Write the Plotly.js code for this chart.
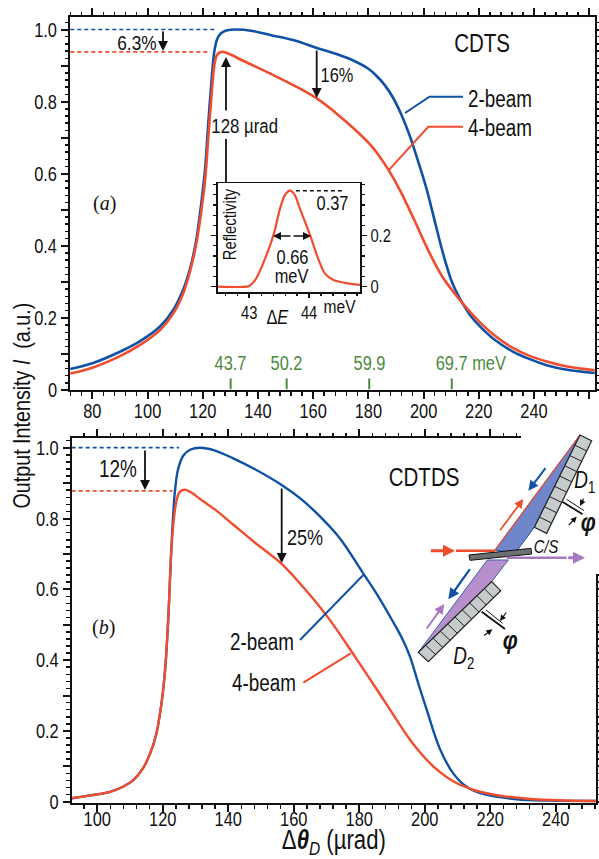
<!DOCTYPE html>
<html><head><meta charset="utf-8">
<script src="https://cdn.plot.ly/plotly-3.0.1.min.js"></script>
<style>html,body{margin:0;padding:0;background:#fff;overflow:hidden}</style>
</head><body><div id="chart" style="width:599px;height:859px"></div>
<script>
// ---- Panel (a) CDTS: 2-beam and 4-beam output intensity
const aBlueX = [72,80,90,97,104.5,109.3,113,115.5,117.5,119,120.8,122,123.3,124.2,125.2,126.5,128.5,132,138,144.4,153,161.3,168,174.5,180,183,186,189,192,195,198,201,204,207,210,212,214.4,217,220.5,226,232.5,238,244.6,252,262];
const aBlueY = [.058,.074,.106,.134,.176,.222,.28,.34,.41,.49,.61,.74,.87,.94,.973,.989,.997,1,.996,.985,.97,.949,.933,.914,.891,.871,.845,.81,.763,.705,.635,.56,.47,.38,.305,.27,.237,.206,.176,.138,.106,.087,.069,.056,.047];
const aRedX = [72,80,90,97.3,104.5,109.3,113,115.4,117.5,119,120.8,122,123.3,124.2,125.2,126.9,129,135,144.4,153,161.3,168,174.6,180,183,187,191.5,196.3,201.2,207,214.4,220.5,226,232.5,238,244.6,252,262];
const aRedY = [.046,.062,.094,.125,.166,.212,.27,.33,.40,.47,.58,.70,.83,.90,.93,.938,.934,.912,.878,.845,.809,.77,.726,.686,.659,.614,.553,.477,.395,.312,.238,.187,.15,.116,.096,.079,.065,.055];
// ---- Panel (b) CDTDS
const bBlueX = [92.2,98,103.9,108,111,114,116.1,118,119.5,120.7,121.7,122.5,123,123.7,124.7,126.3,128.5,131.4,136,141.5,148,156.3,162,167,174,181.2,185,190.4,193,195.5,198,200.6,204.6,208.7,212.8,217.8,228,238.3,252.3];
const bBlueY = [.0096,.018,.028,.043,.061,.095,.135,.19,.27,.37,.52,.69,.78,.875,.94,.978,.995,1,.992,.97,.94,.895,.857,.815,.745,.645,.592,.507,.463,.41,.335,.26,.15,.08,.042,.022,.007,.003,.002];
const bRedX = [92.2,98,103.9,108,111,114,116.1,118,119.5,120.7,121.7,122.5,123.4,124.2,125,126,127,129,131.4,136,141.5,148,156.3,163,170.5,178.7,187.3,195.5,199,202.6,208.7,215.8,223,233.2,252.3];
const bRedY = [.0096,.018,.028,.043,.061,.095,.135,.19,.27,.37,.52,.69,.80,.85,.872,.88,.881,.872,.855,.825,.783,.733,.672,.605,.52,.41,.29,.175,.135,.1,.058,.031,.017,.007,.002];
// ---- Inset: reflectivity
const insetX = [42.48,42.95,43,43.1,43.24,43.41,43.52,43.6,43.68,43.76,43.84,44.02,44.16,44.27,44.4,44.6,44.85];
const insetY = [0,0,.003,.026,.095,.205,.31,.36,.376,.36,.31,.2,.105,.05,.027,.015,.007];
// ---- Energy markers on panel (a)
const energyX = [130.1,150.4,180.3,210.2];
const energyLabels = ['43.7','50.2','59.9','69.7 meV'];

const W=599,H=859;
const BLUE='#0f52a5',RED='#f04c2e',GREEN='#4c8a3e',INK='#111',FONT='"Liberation Sans",Arial,sans-serif';
const px=x=>x/W, py=y=>1-y/H;

const axisBase={showgrid:false,zeroline:false,showline:true,linecolor:INK,linewidth:2,ticks:'outside',tickcolor:INK,tickwidth:2,ticklen:7,mirror:'ticks',tickfont:{family:FONT,size:20,color:INK}};
function xAx(dom,rng,anchor,off){return Object.assign({},axisBase,{domain:dom,range:rng,anchor,tickmode:'linear',tick0:0,dtick:20,ticklabelstandoff:off,minor:{dtick:4,tick0:0,ticks:'outside',ticklen:3.5,tickwidth:1.5,tickcolor:INK}});}
function yAx(dom,rng,anchor){return Object.assign({},axisBase,{domain:dom,range:rng,anchor,tickmode:'linear',tick0:0,dtick:.1,ticklabelstep:2,tickformat:'.1f',labelalias:{'0.0':'0'},minor:{dtick:.02,tick0:0,ticks:'outside',ticklen:3.5,tickwidth:1.5,tickcolor:INK}});}

const line=(x,y,c,xa,ya,w,dash)=>({x,y,xaxis:xa,yaxis:ya,type:'scatter',mode:'lines',hoverinfo:'skip',showlegend:false,line:{color:c,width:w||2.6,dash:dash||'solid',shape:dash?'linear':'spline',smoothing:1}});

const traces=[
 line([72,125],[1,1],BLUE,'x','y',1.7,'4px,3px'),
 line([72,122.3],[.938,.938],RED,'x','y',1.7,'4px,3px'),
 line(aBlueX,aBlueY,BLUE,'x','y'),
 line(aRedX,aRedY,RED,'x','y'),
 line([92.2,125],[1,1],BLUE,'x2','y2',1.7,'4px,3px'),
 line([92.2,123],[.878,.878],RED,'x2','y2',1.7,'4px,3px'),
 line(bBlueX,bBlueY,BLUE,'x2','y2',2.4),
 line(bRedX,bRedY,RED,'x2','y2',2.4),
 line(insetX,insetY,RED,'x3','y3',2.2),
 line([43.78,44.58],[.376,.376],INK,'x3','y3',1.4,'4px,3px')
];
energyX.forEach(v=>traces.push(Object.assign(line([v,v],[0.002,.032],GREEN,'x','y',2),{line:{color:GREEN,width:2}})));

// shapes drawn in page pixels (schematic and leader lines)
const shapes=[];
function poly(pts,fill,col,w,closed){
  shapes.push({type:'path',xref:'paper',yref:'paper',layer:'above',
   path:pts.map((p,i)=>(i?'L':'M')+px(p[0]).toFixed(5)+' '+py(p[1]).toFixed(5)).join(' ')+(closed?' Z':''),
   fillcolor:fill||'rgba(0,0,0,0)',line:{color:col||'rgba(0,0,0,0)',width:w||0}});
}
const z=(a,b)=>[400+a/3,420+b/3];
// white patch hiding the axes of panel (b) behind the schematic
poly([[521,425],[599,425],[599,574],[521,574]],'#fff',null,0,true);
// leaders
poly([[405,113],[429.5,96.7],[463,96.7]],null,BLUE,2);
poly([[388.3,170.7],[428.3,126.7],[463,126.7]],null,RED,2);
poly([[363.3,575],[300,640]],null,BLUE,2);
poly([[303.3,682.7],[350.7,653.3]],null,RED,2);
// schematic wedges
poly([z(540,45),z(403,322),z(345,400),z(285,390)],'#6f86cb','#1f4fa5',1,true);
poly([z(262,420),z(325,420),z(275,485),z(55,697)],'#b68fcb','#3d5fb0',1,true);
poly([z(285,390),z(540,45)],null,RED,1.2);
// detectors
function detector(a,b,c,d,n){
  poly([a,b,c,d],'#c6cccc','#222',1.2,true);
  for(let i=1;i<n;i++){const t=i/n;
    poly([[a[0]+(d[0]-a[0])*t,a[1]+(d[1]-a[1])*t],[b[0]+(c[0]-b[0])*t,b[1]+(c[1]-b[1])*t]],null,'#222',1);}
}
detector(z(540,45),z(575,62),z(440,340),z(403,322),9);
detector(z(55,697),z(85,725),z(302,512),z(275,485),10);
// crystal / C-S element
poly([z(207,405),z(393,385),z(395,402),z(210,421)],'#6b7074','#111',1,true);
poly([z(168,392),z(285,392)],null,RED,2.5);
poly([z(320,413),z(500,413)],null,'#a678c0',2.5);
// angle marks
poly([z(487,245),z(548,283)],null,INK,1.8);
poly([z(500,238),z(552,272)],null,INK,1,false);
poly([z(245,575),z(315,627)],null,INK,1.8);
poly([z(258,570),z(308,610)],null,INK,1,false);

// labels
const ann=[];
function T(text,x,y,size,o){ann.push(Object.assign({text,xref:'paper',yref:'paper',x:px(x),y:py(y),xanchor:'center',yanchor:'middle',showarrow:false,borderpad:0,font:{family:FONT,size,color:INK}},o||{}));}
function A(x0,y0,x1,y1,col,w,size){ann.push({text:'',xref:'paper',yref:'paper',x:px(x1),y:py(y1),ax:x0-x1,ay:y0-y1,axref:'pixel',ayref:'pixel',showarrow:true,arrowhead:2,arrowsize:size||1.1,arrowwidth:w||1.8,arrowcolor:col||INK});}
const ZA=(a,b,c,d,col,w,s)=>{const p=z(a,b),q=z(c,d);A(p[0],p[1],q[0],q[1],col,w,s);};

T('Output Intensity <i>I</i>  (a.u.)',21,406,24,{textangle:-90});
T('6.3%',137,42,21);
A(163,30,163,51);
T('128 µrad',245,125,20.5);
A(226,112,226,57);
poly([[226,139],[226,183]],null,INK,1.8);
T('16%',337,75,20);
A(316.7,49,316.7,98);
T('CDTS',482,43,25);
T('2-beam',500,99,23);
T('4-beam',500,128,23);
T('(<i>a</i>)',104,203,20,{font:{family:'"Liberation Serif",serif',size:20,color:INK}});
energyX.forEach((v,i)=>{
  const isLast=i===energyX.length-1;
  ann.push({text:energyLabels[i],xref:'x',yref:'y',x:v,y:.075,xanchor:isLast?'left':'center',xshift:isLast?-26:0,yanchor:'middle',showarrow:false,font:{family:FONT,size:20,color:GREEN}});
});
// inset labels
T('Reflectivity',230,225,18,{textangle:-90});
T('0.37',332,203,20);
T('0.66',292,257,20);
T('meV',292,276,20);
A(292,236,273,236,INK,1.6,1);A(292,236,311,236,INK,1.6,1);
T('meV',340,306,19);
T('Δ<i>E</i>',277,317,20);
// panel (b) labels
T('12%',118,469,23);
A(145,449,145,490);
T('CDTDS',424,477,25);
T('25%',305,537,22);
A(281.7,487,281.7,563);
T('2-beam',262,642,23);
T('4-beam',264,683,23);
T('(<i>b</i>)',103,627,20,{font:{family:'"Liberation Serif",serif',size:20,color:INK}});
// schematic labels & arrows
ZA(88,392,165,392,RED,3,.8);
ZA(500,413,555,413,'#a678c0',3,.8);
ZA(297,335,370,237,RED,1.8,1);
ZA(440,140,385,212,BLUE,2,1);
ZA(213,443,145,538,BLUE,2.2,1);
ZA(77,630,133,552,'#a678c0',2,1);
ZA(553,232,540,258,INK,1.2,1);ZA(502,320,530,290,INK,1.2,1);
ZA(322,573,300,603,INK,1.2,1);ZA(248,650,277,628,INK,1.2,1);
{const p=z(437,382);T('<i>C/S</i>',p[0],p[1],18);}
{const p=z(555,185);T('<i>D</i><sub>1</sub>',p[0],p[1],23);}
{const p=z(192,712);T('<i>D</i><sub>2</sub>',p[0],p[1],23);}
{const p=z(565,305);T('<b><i>φ</i></b>',p[0],p[1],26);}
{const p=z(330,660);T('<b><i>φ</i></b>',p[0],p[1],26);}

const xa1=xAx([px(70),px(595)],[71.9,262.1],'y',-5);
const ya1=yAx([py(390),py(17)],[0,1.0347],'x');
const xa2=xAx([px(71.7),px(596)],[92.2,252.3],'y2',-10);
const ya2=yAx([py(803.3),py(438.3)],[-.0045,1.0266],'x2');
xa2.title={text:'Δ<b><i>θ</i></b><sub><i>D</i></sub> (µrad)',font:{family:FONT,size:27,color:INK},standoff:17};

const xa3=Object.assign({},axisBase,{domain:[px(218),px(360)],range:[42.48,44.85],anchor:'y3',mirror:true,linewidth:1.8,tickmode:'array',tickvals:[43,44],ticktext:['43','44'],ticklen:4,tickwidth:1.4,tickfont:{family:FONT,size:18,color:INK},minor:{dtick:.2,tick0:43,ticks:'outside',ticklen:2.5,tickwidth:1.2,tickcolor:INK}});
const ya3=Object.assign({},axisBase,{domain:[py(291.7),py(183.3)],range:[-.0196,.405],anchor:'x3',side:'right',linewidth:1.8,tickmode:'array',tickvals:[0,.2],ticktext:['0','0.2'],ticklen:5,tickwidth:1.4,tickfont:{family:FONT,size:18,color:INK},minor:{dtick:.04,tick0:0,ticks:'outside',ticklen:3,tickwidth:1.2,tickcolor:INK}});

Plotly.newPlot('chart',traces,{
  width:W,height:H,autosize:false,margin:{l:0,r:0,t:0,b:0,pad:0,autoexpand:false},
  paper_bgcolor:'#fff',plot_bgcolor:'#fff',showlegend:false,font:{family:FONT,color:INK},
  xaxis:xa1,yaxis:ya1,xaxis2:xa2,yaxis2:ya2,xaxis3:xa3,yaxis3:ya3,shapes,annotations:ann
},{displayModeBar:false,staticPlot:true}).then(gd=>{
  // the reference sets its sans text condensed: narrow the real text glyphs
  gd.querySelectorAll('svg text').forEach(t=>{
    if(!t.textContent.trim()) return;
    if((t.style.fontFamily||'').indexOf('Serif')>=0) return;
    const w=t.getComputedTextLength();
    if(w>0){t.setAttribute('textLength',(w*.82).toFixed(1));t.setAttribute('lengthAdjust','spacingAndGlyphs');}
  });
});
</script></body></html>
